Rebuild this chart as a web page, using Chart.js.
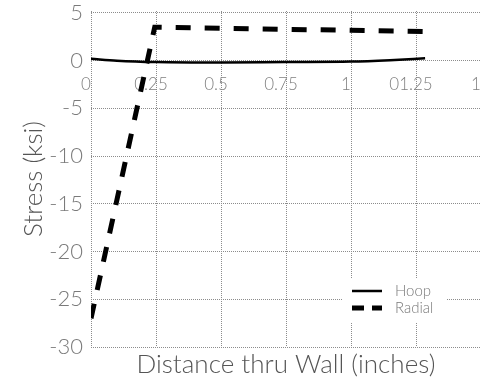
<!DOCTYPE html>
<html><head><meta charset="utf-8">
<script src="https://cdn.jsdelivr.net/npm/chart.js@4"></script>
<style>html,body{margin:0;padding:0;background:#fff;overflow:hidden}#wrap{width:481px;height:379px;position:relative}</style>
</head><body><div id="wrap"><canvas id="c"></canvas></div>
<script>
const seriesNames = ["Hoop", "Radial"];
const hoopX = [0, 0.1, 0.25, 0.5, 0.75, 1.0, 1.15, 1.285];
const hoopY = [0.2, 0.0, -0.15, -0.2, -0.15, -0.1, 0.05, 0.25];
const radialX = [0, 0.245, 1.285];
const radialY = [-27, 3.5, 3.05];
const xTickValues = [0, 0.25, 0.5, 0.75, 1, 1.25, 1.5];
const xTickLabels = ["0", "0.25", "0.5", "0.75", "1", "01.25", "1"];
const yTickValues = [-30, -25, -20, -15, -10, -5, 0, 5];
const yTickLabels = ["-30", "-25", "-20", "-15", "-10", "-5", "0", "5"];
const xTitle = "Distance thru Wall (inches)";
const yTitle = "Stress (ksi)";

const FONT = 'Lato';
const toPts = (xs, ys) => xs.map((x, i) => ({x: x, y: ys[i]}));

const boxLegend = {
  id: 'boxLegend',
  afterDatasetsDraw(chart) {
    const {ctx, chartArea} = chart;
    const w = 104, h = 44;
    const x0 = chartArea.right - 138, y0 = chartArea.bottom - 69;
    ctx.save();
    ctx.fillStyle = '#fff';
    ctx.fillRect(x0, y0, w, h);
    chart.data.datasets.forEach((ds, i) => {
      const y = y0 + 13 + i * 17;
      ctx.beginPath();
      ctx.setLineDash(ds.legendDash || []);
      ctx.lineWidth = ds.borderWidth;
      ctx.strokeStyle = ds.borderColor;
      ctx.lineCap = 'butt';
      ctx.moveTo(x0 + 9, y);
      ctx.lineTo(x0 + 39, y);
      ctx.stroke();
      ctx.setLineDash([]);
      ctx.fillStyle = '#7a7a7a';
      ctx.font = '300 15px ' + FONT;
      ctx.textBaseline = 'middle';
      ctx.textAlign = 'left';
      ctx.fillText(ds.label, x0 + 52, y);
    });
    ctx.restore();
  }
};

new Chart(document.getElementById('c'), {
  type: 'line',
  data: {
    datasets: [
      {label: seriesNames[0], data: toPts(hoopX, hoopY), borderColor: '#000', borderWidth: 2.5,
       pointRadius: 0, tension: 0.4, cubicInterpolationMode: 'monotone', fill: false},
      {label: seriesNames[1], data: toPts(radialX, radialY), borderColor: '#000', borderWidth: 5,
       borderDash: [15, 14], legendDash: [12, 8], pointRadius: 0, tension: 0, fill: false}
    ]
  },
  options: {
    responsive: true,
    maintainAspectRatio: false,
    animation: false,
    devicePixelRatio: 1,
    layout: {padding: {top: 11, right: 0, bottom: 0, left: 0}},
    plugins: {
      legend: {display: false},
      tooltip: {enabled: false},
      title: {display: false}
    },
    scales: {
      x: {
        type: 'linear', min: 0, max: 1.5, position: {y: 0},
        afterBuildTicks: s => { s.ticks = xTickValues.map(v => ({value: v})); },
        afterFit: s => { s.paddingLeft = 0; s.paddingRight = 0; },
        border: {display: false, dash: [1, 1]},
        grid: {color: '#8c8c8c', lineWidth: 1, drawTicks: false},
        ticks: {
          font: {family: FONT, size: 17, weight: 300}, color: '#808080', padding: 14,
          labelOffset: -5, maxRotation: 0, autoSkip: false,
          callback: (v, i) => xTickLabels[i]
        }
      },
      xTitleAxis: {
        type: 'linear', axis: 'x', position: 'bottom', min: 0, max: 1.5,
        afterFit: s => { s.height = 32; s.paddingLeft = 0; s.paddingRight = 0; },
        border: {display: false},
        grid: {display: false, drawTicks: false},
        ticks: {display: false},
        title: {
          display: true, text: xTitle, color: '#555',
          font: {family: FONT, size: 26, weight: 300, lineHeight: 1}, padding: {top: 0, bottom: 1}
        }
      },
      y: {
        type: 'linear', min: -30, max: 5.2,
        afterBuildTicks: s => { s.ticks = yTickValues.map(v => ({value: v})); },
        afterFit: s => { s.width = 91; s.paddingTop = 0; s.paddingBottom = 0; },
        border: {display: false, dash: [1, 1]},
        grid: {color: '#8c8c8c', lineWidth: 1, drawTicks: false},
        ticks: {
          font: {family: FONT, size: 22, weight: 300}, color: '#7a7a7a', padding: 8,
          callback: (v, i) => yTickLabels[i]
        },
        title: {
          display: true, text: yTitle, color: '#555',
          font: {family: FONT, size: 26, weight: 300, lineHeight: 1}, padding: {top: 21, bottom: 0}
        }
      }
    }
  },
  plugins: [boxLegend]
});
</script></body></html>
